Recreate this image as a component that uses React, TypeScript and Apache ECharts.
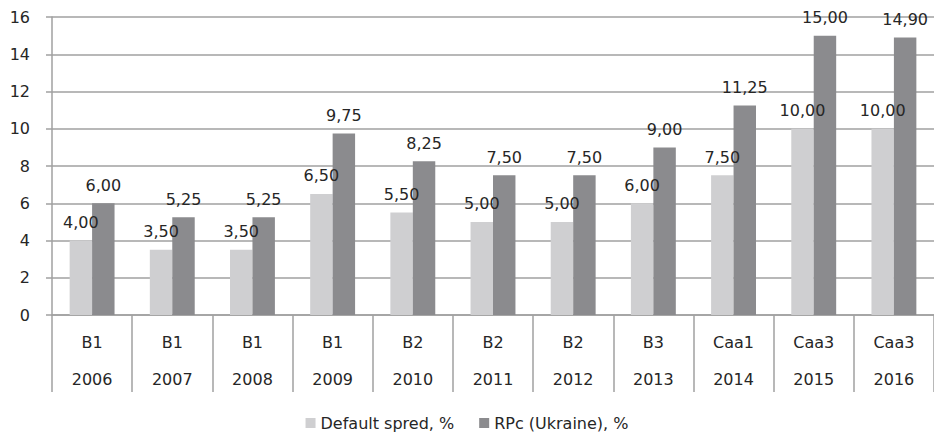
import React, { useEffect, useRef } from "react";
import * as echarts from "echarts";

const ratings = ["B1", "B1", "B1", "B1", "B2", "B2", "B2", "B3", "Caa1", "Caa3", "Caa3"];
const years = ["2006", "2007", "2008", "2009", "2010", "2011", "2012", "2013", "2014", "2015", "2016"];
const defaultSpread = [4.0, 3.5, 3.5, 6.5, 5.5, 5.0, 5.0, 6.0, 7.5, 10.0, 10.0];
const rpcUkraine = [6.0, 5.25, 5.25, 9.75, 8.25, 7.5, 7.5, 9.0, 11.25, 15.0, 14.9];
const seriesNames = ["Default spred, %", "RPc (Ukraine), %"];
const yTicks = { min: 0, max: 16, interval: 2 };

const FONT = "DejaVu Sans";
const TEXT = "#262626";
const GRID = "#a0a0a0";

export default function App() {
  const ref = useRef<HTMLDivElement>(null);
  useEffect(() => {
    if (!ref.current) return;
    const chart = echarts.init(ref.current, undefined, { renderer: "svg" });
    const categories = ratings.map((r, i) => r + "\n" + years[i]);
    const fmt = (p: any) => Number(p.value).toFixed(2).replace(".", ",");
    const labelStyle = {
      show: true,
      position: "top" as const,
      distance: 10,
      formatter: fmt,
      fontFamily: FONT,
      fontSize: 16,
      color: TEXT,
    };
    chart.setOption({
      animation: false,
      textStyle: { fontFamily: FONT },
      grid: { left: 52, right: 0, top: 17, bottom: 119, containLabel: false },
      legend: {
        data: seriesNames,
        left: "center",
        top: 410,
        itemWidth: 10,
        itemHeight: 10,
        itemGap: 25,
        icon: "rect",
        textStyle: { fontFamily: FONT, fontSize: 16, color: TEXT },
      },
      xAxis: {
        type: "category",
        data: categories,
        axisLine: { show: true, lineStyle: { color: GRID, width: 1.5 } },
        axisTick: {
          show: true,
          interval: 0,
          length: 77,
          lineStyle: { color: GRID, width: 1.5 },
        },
        axisLabel: {
          interval: 0,
          margin: 9,
          fontFamily: FONT,
          fontSize: 16,
          lineHeight: 37,
          color: TEXT,
        },
      },
      yAxis: {
        type: "value",
        min: yTicks.min,
        max: yTicks.max,
        interval: yTicks.interval,
        axisLine: { show: true, lineStyle: { color: GRID, width: 1.5 } },
        axisTick: { show: true, length: 6, lineStyle: { color: GRID, width: 1.5 } },
        splitLine: { show: true, lineStyle: { color: GRID, width: 1.5 } },
        axisLabel: { margin: 22, fontFamily: FONT, fontSize: 16, color: TEXT },
      },
      series: [
        {
          name: seriesNames[0],
          type: "bar",
          data: defaultSpread,
          barGap: "0%",
          barCategoryGap: "44%",
          itemStyle: { color: "#cfcfd1" },
          label: labelStyle,
          z: 2,
        },
        {
          name: seriesNames[1],
          type: "bar",
          data: rpcUkraine,
          barGap: "0%",
          barCategoryGap: "44%",
          itemStyle: { color: "#8b8b8e" },
          label: labelStyle,
          z: 2,
        },
      ],
    });
    return () => chart.dispose();
  }, []);
  return (
    <div
      ref={ref}
      style={{ position: "absolute", left: 0, top: 0, width: 934, height: 434, background: "#fff" }}
    />
  );
}
